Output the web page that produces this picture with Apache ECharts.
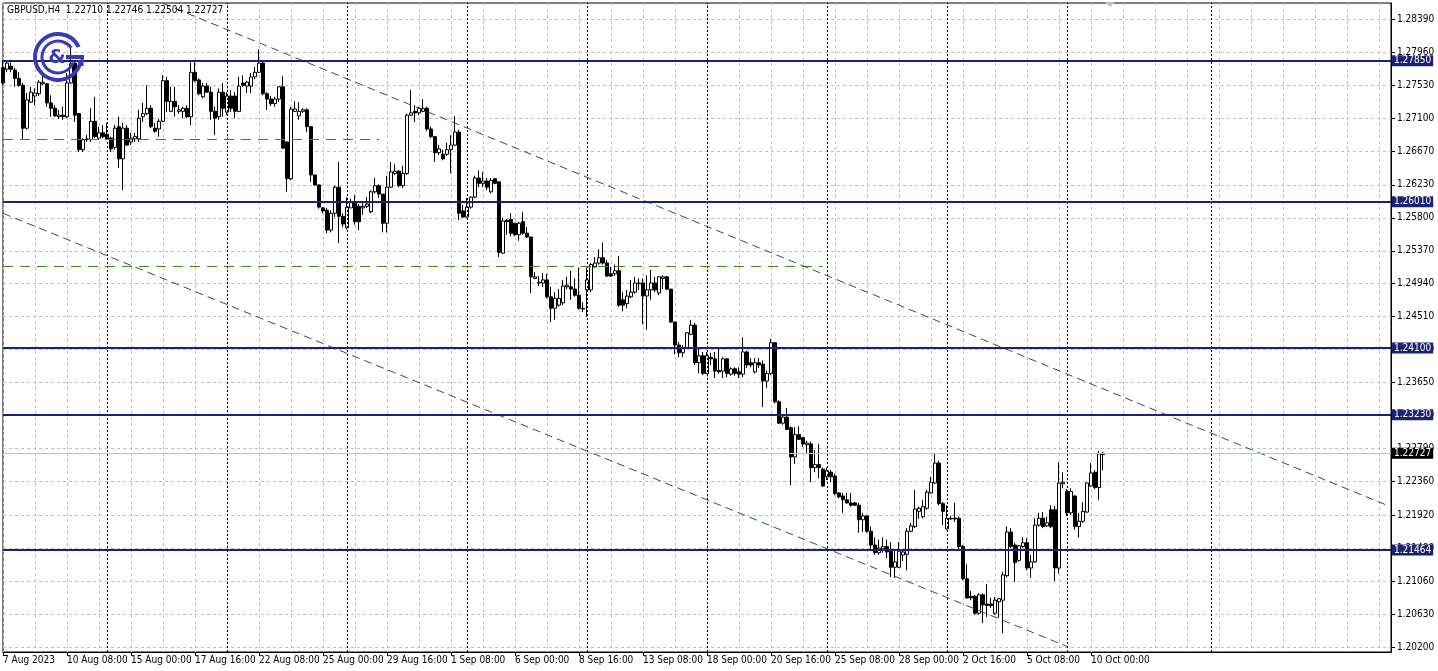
<!DOCTYPE html>
<html><head><meta charset="utf-8">
<script src="https://cdn.jsdelivr.net/npm/echarts@6/dist/echarts.min.js"></script>
<style>html,body{margin:0;padding:0;background:#fff}#c{width:1438px;height:671px}</style>
</head><body><div id="c"></div>
<script>
const headerText = 'GBPUSD,H4  1.22710 1.22746 1.22504 1.22727';
const dateLabels = ['7 Aug 2023','10 Aug 08:00','15 Aug 00:00','17 Aug 16:00','22 Aug 08:00','25 Aug 00:00','29 Aug 16:00','1 Sep 08:00','6 Sep 00:00','8 Sep 16:00','13 Sep 08:00','18 Sep 00:00','20 Sep 16:00','25 Sep 08:00','28 Sep 00:00','2 Oct 16:00','5 Oct 08:00','10 Oct 00:00'];
const priceTicks = [1.28390,1.27960,1.27530,1.27100,1.26670,1.26230,1.25800,1.25370,1.24940,1.24510,1.24080,1.23650,1.23220,1.22790,1.22360,1.21920,1.21490,1.21060,1.20630,1.20200];
const levelLines = [1.27850,1.26010,1.24100,1.23230,1.21464];
const bidPrice = 1.22727;
const weekSeparators = [26,56,86,116,146,176,206,236,266,302];
const greenLevels = [{price:1.26825, from:0, to:94},{price:1.25172, from:0, to:205}];
const channelUpper = [[40,1.28599],[346,1.22049]];
const channelLower = [[0,1.25859],[266,1.20207]];

const open = [1.2776,1.2774,1.2778,1.2773,1.2762,1.2753,1.2697,1.2731,1.2739,1.2742,
1.2755,1.2755,1.2730,1.2723,1.2712,1.2714,1.2712,1.2756,1.2782,1.2716,
1.2669,1.2682,1.2682,1.2706,1.2684,1.2691,1.2689,1.2684,1.2672,1.2699,
1.2657,1.2697,1.2679,1.2683,1.2683,1.2712,1.2716,1.2723,1.2697,1.2696,
1.2706,1.2759,1.2719,1.2732,1.2719,1.2719,1.2723,1.2712,1.2770,1.2760,
1.2738,1.2752,1.2744,1.2719,1.2712,1.2744,1.2718,1.2739,1.2739,1.2719,
1.2756,1.2752,1.2752,1.2764,1.2770,1.2782,1.2742,1.2735,1.2729,1.2735,
1.2751,1.2679,1.2631,1.2719,1.2713,1.2719,1.2721,1.2699,1.2636,1.2623,
1.2593,1.2590,1.2564,1.2586,1.2620,1.2582,1.2567,1.2593,1.2601,1.2595,
1.2593,1.2595,1.2588,1.2614,1.2622,1.2611,1.2573,1.2620,1.2638,1.2641,
1.2622,1.2638,1.2714,1.2719,1.2717,1.2719,1.2723,1.2696,1.2686,1.2665,
1.2663,1.2663,1.2669,1.2675,1.2692,1.2589,1.2581,1.2594,1.2607,1.2632,
1.2625,1.2628,1.2614,1.2631,1.2627,1.2534,1.2577,1.2578,1.2573,1.2558,
1.2575,1.2560,1.2555,1.2501,1.2495,1.2495,1.2499,1.2477,1.2462,1.2466,
1.2469,1.2490,1.2490,1.2487,1.2479,1.2462,1.2486,1.2486,1.2516,1.2521,
1.2528,1.2521,1.2507,1.2507,1.2511,1.2473,1.2468,1.2477,1.2483,1.2494,
1.2495,1.2478,1.2486,1.2495,1.2482,1.2501,1.2503,1.2487,1.2444,1.2414,
1.2404,1.2410,1.2428,1.2440,1.2391,1.2400,1.2377,1.2398,1.2396,1.2381,
1.2380,1.2396,1.2376,1.2383,1.2379,1.2376,1.2405,1.2391,1.2379,1.2391,
1.2389,1.2367,1.2377,1.2417,1.2340,1.2312,1.2320,1.2306,1.2268,1.2297,
1.2293,1.2284,1.2285,1.2254,1.2258,1.2252,1.2242,1.2248,1.2243,1.2221,
1.2217,1.2212,1.2208,1.2208,1.2205,1.2186,1.2191,1.2171,1.2153,1.2143,
1.2148,1.2151,1.2145,1.2124,1.2124,1.2140,1.2141,1.2171,1.2177,1.2197,
1.2190,1.2201,1.2221,1.2234,1.2260,1.2207,1.2174,1.2187,1.2188,1.2188,
1.2151,1.2109,1.2086,1.2086,1.2064,1.2088,1.2076,1.2076,1.2064,1.2079,
1.2081,1.2113,1.2170,1.2153,1.2133,1.2151,1.2156,1.2123,1.2131,1.2179,
1.2188,1.2178,1.2199,1.2199,1.2123,1.2233,1.2223,1.2195,1.2217,1.2177,
1.2184,1.2196,1.2230,1.2248,1.2228,1.22710];
const close = [1.2756,1.2782,1.2774,1.2762,1.2753,1.2697,1.2734,1.2744,1.2743,1.2757,
1.2757,1.2730,1.2723,1.2713,1.2714,1.2712,1.2756,1.2781,1.2714,1.2669,
1.2682,1.2683,1.2706,1.2686,1.2691,1.2686,1.2683,1.2670,1.2697,1.2657,
1.2697,1.2675,1.2684,1.2686,1.2710,1.2716,1.2723,1.2699,1.2693,1.2706,
1.2759,1.2732,1.2732,1.2725,1.2721,1.2723,1.2712,1.2770,1.2759,1.2742,
1.2752,1.2744,1.2719,1.2710,1.2744,1.2723,1.2739,1.2723,1.2719,1.2752,
1.2753,1.2757,1.2764,1.2770,1.2782,1.2742,1.2735,1.2729,1.2735,1.2751,
1.2671,1.2631,1.2722,1.2722,1.2719,1.2721,1.2699,1.2636,1.2623,1.2594,
1.2589,1.2564,1.2586,1.2620,1.2582,1.2572,1.2594,1.2601,1.2575,1.2575,
1.2595,1.2598,1.2614,1.2622,1.2611,1.2573,1.2620,1.2640,1.2641,1.2622,
1.2638,1.2714,1.2717,1.2717,1.2723,1.2723,1.2696,1.2686,1.2665,1.2670,
1.2657,1.2669,1.2675,1.2692,1.2586,1.2581,1.2594,1.2607,1.2632,1.2625,
1.2628,1.2620,1.2629,1.2625,1.2535,1.2576,1.2575,1.2560,1.2558,1.2573,
1.2560,1.2555,1.2503,1.2503,1.2496,1.2499,1.2477,1.2462,1.2475,1.2475,
1.2491,1.2492,1.2487,1.2479,1.2462,1.2461,1.2499,1.2519,1.2521,1.2528,
1.2521,1.2504,1.2504,1.2511,1.2466,1.2466,1.2478,1.2483,1.2495,1.2495,
1.2478,1.2486,1.2495,1.2486,1.2503,1.2503,1.2487,1.2444,1.2414,1.2404,
1.2410,1.2430,1.2440,1.2391,1.2400,1.2377,1.2400,1.2396,1.2380,1.2379,
1.2396,1.2377,1.2383,1.2377,1.2376,1.2405,1.2388,1.2388,1.2391,1.2388,
1.2367,1.2377,1.2417,1.2340,1.2312,1.2320,1.2304,1.2268,1.2297,1.2291,
1.2285,1.2286,1.2254,1.2258,1.2254,1.2230,1.2250,1.2242,1.2220,1.2216,
1.2212,1.2208,1.2205,1.2205,1.2186,1.2191,1.2171,1.2153,1.2143,1.2149,
1.2151,1.2144,1.2124,1.2131,1.2145,1.2144,1.2171,1.2178,1.2200,1.2201,
1.2203,1.2222,1.2235,1.2260,1.2207,1.2197,1.2188,1.2188,1.2187,1.2151,
1.2109,1.2084,1.2084,1.2064,1.2088,1.2075,1.2074,1.2074,1.2081,1.2083,
1.2114,1.2170,1.2151,1.2130,1.2152,1.2156,1.2123,1.2131,1.2179,1.2188,
1.2177,1.2182,1.2177,1.2123,1.2234,1.2235,1.2195,1.2223,1.2177,1.2184,
1.2197,1.2234,1.2247,1.2228,1.2272,1.22727];
const high = [1.2786,1.2786,1.2783,1.2776,1.2770,1.2756,1.2743,1.2751,1.2749,1.2760,
1.2770,1.2756,1.2740,1.2727,1.2721,1.2725,1.2769,1.2806,1.2783,1.2717,
1.2684,1.2688,1.2723,1.2738,1.2699,1.2701,1.2704,1.2686,1.2701,1.2712,
1.2704,1.2701,1.2691,1.2691,1.2721,1.2730,1.2753,1.2727,1.2704,1.2709,
1.2766,1.2764,1.2751,1.2751,1.2727,1.2725,1.2727,1.2783,1.2786,1.2762,
1.2756,1.2756,1.2751,1.2725,1.2749,1.2756,1.2744,1.2747,1.2744,1.2764,
1.2766,1.2759,1.2769,1.2777,1.2800,1.2783,1.2744,1.2739,1.2738,1.2752,
1.2765,1.2680,1.2725,1.2732,1.2731,1.2723,1.2723,1.2699,1.2636,1.2623,
1.2594,1.2593,1.2590,1.2622,1.2653,1.2586,1.2607,1.2605,1.2610,1.2598,
1.2599,1.2607,1.2616,1.2632,1.2624,1.2611,1.2635,1.2653,1.2650,1.2642,
1.2648,1.2716,1.2747,1.2727,1.2725,1.2735,1.2725,1.2699,1.2687,1.2675,
1.2669,1.2678,1.2688,1.2713,1.2695,1.2597,1.2606,1.2608,1.2635,1.2642,
1.2640,1.2632,1.2632,1.2632,1.2628,1.2580,1.2578,1.2586,1.2573,1.2575,
1.2588,1.2568,1.2555,1.2509,1.2504,1.2508,1.2507,1.2490,1.2483,1.2487,
1.2499,1.2503,1.2511,1.2501,1.2515,1.2470,1.2515,1.2521,1.2529,1.2539,
1.2548,1.2525,1.2516,1.2519,1.2530,1.2483,1.2486,1.2499,1.2503,1.2501,
1.2501,1.2505,1.2512,1.2503,1.2504,1.2505,1.2504,1.2487,1.2444,1.2418,
1.2414,1.2431,1.2447,1.2443,1.2410,1.2405,1.2405,1.2404,1.2405,1.2409,
1.2398,1.2397,1.2385,1.2385,1.2385,1.2424,1.2407,1.2397,1.2397,1.2397,
1.2394,1.2381,1.2422,1.2418,1.2342,1.2323,1.2332,1.2308,1.2307,1.2308,
1.2294,1.2289,1.2288,1.2277,1.2285,1.2254,1.2254,1.2251,1.2246,1.2222,
1.2221,1.2221,1.2221,1.2209,1.2208,1.2195,1.2192,1.2177,1.2163,1.2160,
1.2163,1.2160,1.2157,1.2146,1.2157,1.2146,1.2175,1.2182,1.2225,1.2203,
1.2212,1.2225,1.2242,1.2272,1.2263,1.2209,1.2205,1.2191,1.2208,1.2190,
1.2153,1.2128,1.2093,1.2088,1.2090,1.2090,1.2102,1.2084,1.2085,1.2084,
1.2118,1.2177,1.2175,1.2156,1.2153,1.2163,1.2162,1.2140,1.2188,1.2195,
1.2196,1.2190,1.2205,1.2204,1.2261,1.2248,1.2226,1.2227,1.2218,1.2195,
1.2209,1.2235,1.2260,1.2251,1.2276,1.22746];
const low = [1.2753,1.2770,1.2770,1.2751,1.2751,1.2683,1.2695,1.2730,1.2727,1.2739,
1.2753,1.2725,1.2712,1.2712,1.2709,1.2708,1.2710,1.2755,1.2705,1.2666,
1.2666,1.2679,1.2679,1.2684,1.2682,1.2684,1.2682,1.2666,1.2669,1.2645,
1.2616,1.2674,1.2675,1.2679,1.2679,1.2705,1.2714,1.2697,1.2691,1.2686,
1.2705,1.2718,1.2718,1.2712,1.2716,1.2710,1.2710,1.2701,1.2757,1.2740,
1.2736,1.2743,1.2708,1.2688,1.2708,1.2712,1.2714,1.2718,1.2710,1.2718,
1.2751,1.2743,1.2743,1.2761,1.2769,1.2740,1.2721,1.2726,1.2725,1.2731,
1.2670,1.2614,1.2629,1.2718,1.2708,1.2717,1.2692,1.2627,1.2622,1.2592,
1.2586,1.2560,1.2561,1.2581,1.2547,1.2568,1.2565,1.2593,1.2571,1.2564,
1.2584,1.2593,1.2586,1.2612,1.2606,1.2561,1.2561,1.2619,1.2636,1.2620,
1.2619,1.2636,1.2713,1.2705,1.2714,1.2718,1.2693,1.2684,1.2653,1.2662,
1.2655,1.2661,1.2638,1.2674,1.2577,1.2580,1.2580,1.2592,1.2606,1.2620,
1.2620,1.2616,1.2612,1.2624,1.2529,1.2533,1.2558,1.2556,1.2556,1.2550,
1.2558,1.2554,1.2482,1.2500,1.2491,1.2490,1.2475,1.2444,1.2447,1.2464,
1.2466,1.2487,1.2473,1.2477,1.2460,1.2457,1.2451,1.2483,1.2515,1.2519,
1.2519,1.2503,1.2503,1.2504,1.2464,1.2458,1.2462,1.2475,1.2481,1.2486,
1.2441,1.2434,1.2473,1.2483,1.2479,1.2487,1.2486,1.2443,1.2402,1.2398,
1.2398,1.2409,1.2427,1.2388,1.2377,1.2375,1.2376,1.2388,1.2371,1.2377,
1.2371,1.2372,1.2374,1.2374,1.2371,1.2372,1.2384,1.2385,1.2377,1.2384,
1.2333,1.2358,1.2375,1.2338,1.2311,1.2310,1.2303,1.2231,1.2259,1.2290,
1.2281,1.2272,1.2235,1.2248,1.2240,1.2229,1.2238,1.2235,1.2218,1.2214,
1.2195,1.2207,1.2203,1.2204,1.2169,1.2170,1.2169,1.2147,1.2140,1.2140,
1.2143,1.2136,1.2111,1.2110,1.2123,1.2132,1.2120,1.2170,1.2175,1.2187,
1.2188,1.2199,1.2220,1.2233,1.2205,1.2179,1.2173,1.2186,1.2183,1.2148,
1.2107,1.2083,1.2081,1.2062,1.2062,1.2051,1.2059,1.2071,1.2062,1.2058,
1.2038,1.2111,1.2149,1.2105,1.2131,1.2149,1.2120,1.2110,1.2130,1.2177,
1.2175,1.2177,1.2175,1.2106,1.2116,1.2227,1.2191,1.2192,1.2173,1.2163,
1.2182,1.2195,1.2229,1.2226,1.2212,1.22504];

const SLOTS = 348;
const categories = Array.from({length: SLOTS}, (_, i) => String(i));
const candleData = open.map((o, i) => [o, close[i], low[i], high[i]]);

const FONT = '"Liberation Sans Narrow", "DejaVu Sans Condensed", "Liberation Sans", sans-serif';
const NAVY = '#1c2273';

const mlData = [];
weekSeparators.forEach(i => mlData.push({xAxis: i, lineStyle: {color: '#000', width: 1, type: [2, 2]}, label: {show: false}}));
greenLevels.forEach(g => mlData.push([
  {coord: [g.from, g.price], lineStyle: {color: '#3f8a12', width: 1, type: [10, 7]}, label: {show: false}},
  {coord: [g.to, g.price]}
]));
[channelUpper, channelLower].forEach(c => mlData.push([
  {coord: c[0], lineStyle: {color: '#2f4f4f', width: 1, type: [8, 5]}, label: {show: false}},
  {coord: c[1]}
]));
mlData.push({yAxis: bidPrice, lineStyle: {color: '#c0c0c0', width: 1, type: 'solid'},
  label: {show: true, position: 'end', distance: 1, formatter: bidPrice.toFixed(5), color: '#fff', backgroundColor: '#000',
    padding: [1, 2, 0, 2], fontSize: 10, lineHeight: 10, fontFamily: FONT}});
levelLines.forEach(p => mlData.push({yAxis: p, lineStyle: {color: NAVY, width: 2, type: 'solid'},
  label: {show: true, position: 'end', distance: 1, formatter: p.toFixed(5), color: '#fff', backgroundColor: NAVY,
    padding: [1, 2, 0, 2], fontSize: 10, lineHeight: 10, fontFamily: FONT}}));

const chart = echarts.init(document.getElementById('c'), null, {renderer: 'canvas'});
const LOGO = '#3a3ab4';
chart.setOption({
  animation: false,
  backgroundColor: '#ffffff',
  grid: {left: 3, right: 47, top: 3, bottom: 19, show: true, borderColor: '#000', borderWidth: 1, backgroundColor: '#fff'},
  xAxis: {
    type: 'category', data: categories, boundaryGap: false,
    axisLine: {show: true, lineStyle: {color: '#000', width: 1}},
    axisTick: {show: true, length: 4, lineStyle: {color: '#000'}, interval: (i) => i % 16 === 0 && i / 16 < dateLabels.length},
    axisLabel: {show: true, interval: (i) => i % 16 === 0 && i / 16 < dateLabels.length,
      formatter: (v, idx) => dateLabels[Math.round(Number(v) / 16)] || '',
      align: 'left', margin: 3, color: '#000', fontSize: 10, fontFamily: FONT},
    splitLine: {show: true, interval: (i) => i % 8 === 0, lineStyle: {color: '#c0c0c0', width: 1, type: [3, 3]}}
  },
  yAxis: {
    type: 'value', position: 'right', min: 1.20134, max: 1.28604, scale: true,
    axisLine: {show: true, lineStyle: {color: '#000', width: 1}},
    axisTick: {show: true, length: 4, customValues: priceTicks, lineStyle: {color: '#000'}},
    axisLabel: {show: true, customValues: priceTicks, formatter: (v) => Number(v).toFixed(5), margin: 6,
      color: '#000', fontSize: 10, fontFamily: FONT},
    splitLine: {show: true, lineStyle: {color: '#c0c0c0', width: 1, type: [3, 3]}}
  },
  series: [{
    type: 'candlestick', data: candleData, barWidth: 3, barMaxWidth: 3,
    itemStyle: {color: '#ffffff', color0: '#000000', borderColor: '#000000', borderColor0: '#000000', borderWidth: 1},
    silent: true,
    markLine: {symbol: ['none', 'none'], precision: 5, silent: true, animation: false, data: mlData}
  }],
  graphic: [
    {type: 'text', x: 7, y: 5, z: 100, style: {text: headerText, fontSize: 10, fontFamily: FONT, fill: '#000'}},
    {type: 'polygon', z: 100, shape: {points: [[1105, 2], [1115, 2], [1110, 7]]}, style: {fill: '#c0c0c0'}},
    {type: 'arc', z: 100, shape: {cx: 58, cy: 57, r: 23, startAngle: 0.15, endAngle: Math.PI * 2 - 0.45}, style: {stroke: LOGO, lineWidth: 4, fill: null}},
    {type: 'arc', z: 100, shape: {cx: 58, cy: 57, r: 16, startAngle: 0.35, endAngle: Math.PI * 2 - 0.6}, style: {stroke: LOGO, lineWidth: 3, fill: null}},
    {type: 'line', z: 100, shape: {x1: 66, y1: 57, x2: 84, y2: 57}, style: {stroke: LOGO, lineWidth: 4}},
    {type: 'line', z: 100, shape: {x1: 82, y1: 56, x2: 82, y2: 66}, style: {stroke: LOGO, lineWidth: 3}},
    {type: 'text', z: 100, x: 57, y: 58, style: {text: '&', fontSize: 20, fontWeight: 'bold', fontFamily: 'DejaVu Sans', fill: LOGO, align: 'center', verticalAlign: 'middle'}}
  ]
});
</script></body></html>
